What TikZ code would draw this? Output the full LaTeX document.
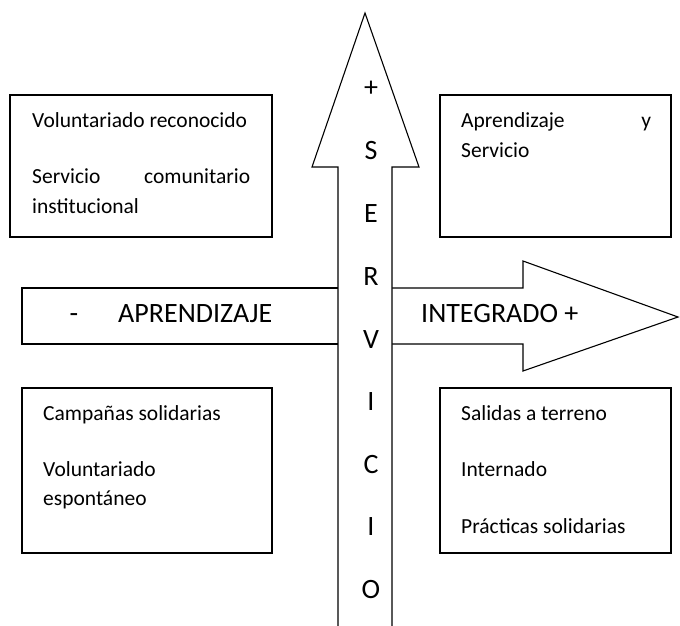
\documentclass[tikz,border=0pt]{standalone}
\usepackage{fontspec}
\setmainfont{Carlito}
\usepackage{tikz}
\usetikzlibrary{calc}
\newcommand{\caja}[4]{\draw[line width=1.3pt] ( #1 , #2 ) rectangle ( #3 , #4 );}
\tikzset{
  texto/.style={anchor=base west, inner sep=0pt, font=\fontsize{21.5}{25}\selectfont},
  letra/.style={anchor=base, inner sep=0pt, font=\fontsize{28}{32}\selectfont},
  eje/.style={line width=1.1pt, fill=white, line join=miter}
}
\begin{document}
\begin{tikzpicture}[x=1pt, y=-1pt]
            \useasboundingbox (0,0) rectangle (680,626);
            % cajas
            \caja{10}{95}{272}{237}
            \caja{440}{95}{671}{237}
            \caja{22}{388}{272}{553}
            \caja{440}{388}{671}{553}
            % flecha horizontal
            \draw[eje] (339,288) -- (22,288) -- (22,344) -- (339,344);
            \draw[eje] (392,288) -- (523,288) -- (523,261) -- (678,317)
                -- (523,371) -- (523,344) -- (392,344);
            % flecha vertical
            \draw[eje] (338,626) -- (338,167) -- (312,167) -- (365,13)
                -- (419,167) -- (392,167) -- (392,626);
            % texto horizontal
            \node[letra] (menos) at (74,322) {-};
            \node[letra, anchor=base west] (aprendizaje) at (118,322) {APRENDIZAJE};
            \node[letra, anchor=base west] (integrado) at (421,322) {INTEGRADO +};
            % texto vertical
            \node[letra] (v1) at (371,96.5) {+};
            \node[letra] (v2) at (371,159) {S};
            \node[letra] (v3) at (371,222) {E};
            \node[letra] (v4) at (371,285) {R};
            \node[letra] (v5) at (371,348) {V};
            \node[letra] (v6) at (371,410) {I};
            \node[letra] (v7) at (371,473) {C};
            \node[letra] (v8) at (371,535) {I};
            \node[letra] (v9) at (371,598) {O};
            % caja 1
            \node[texto] (a1) at (32,127) {Voluntariado reconocido};
            \node[texto] (a2) at (32,183) {\makebox[218pt][s]{Servicio comunitario}};
            \node[texto] (a3) at (32,213) {institucional};
            % caja 2
            \node[texto] (b1) at (461,127) {\makebox[190pt][s]{Aprendizaje y}};
            \node[texto] (b2) at (461,157) {Servicio};
            % caja 3
            \node[texto] (c1) at (43,420) {Campañas solidarias};
            \node[texto] (c2) at (43,476) {Voluntariado};
            \node[texto] (c3) at (43,505) {espontáneo};
            % caja 4
            \node[texto] (d1) at (461,420) {Salidas a terreno};
            \node[texto] (d2) at (461,476) {Internado};
            \node[texto] (d3) at (461,533) {Prácticas solidarias};
        \end{tikzpicture}
\end{document}
